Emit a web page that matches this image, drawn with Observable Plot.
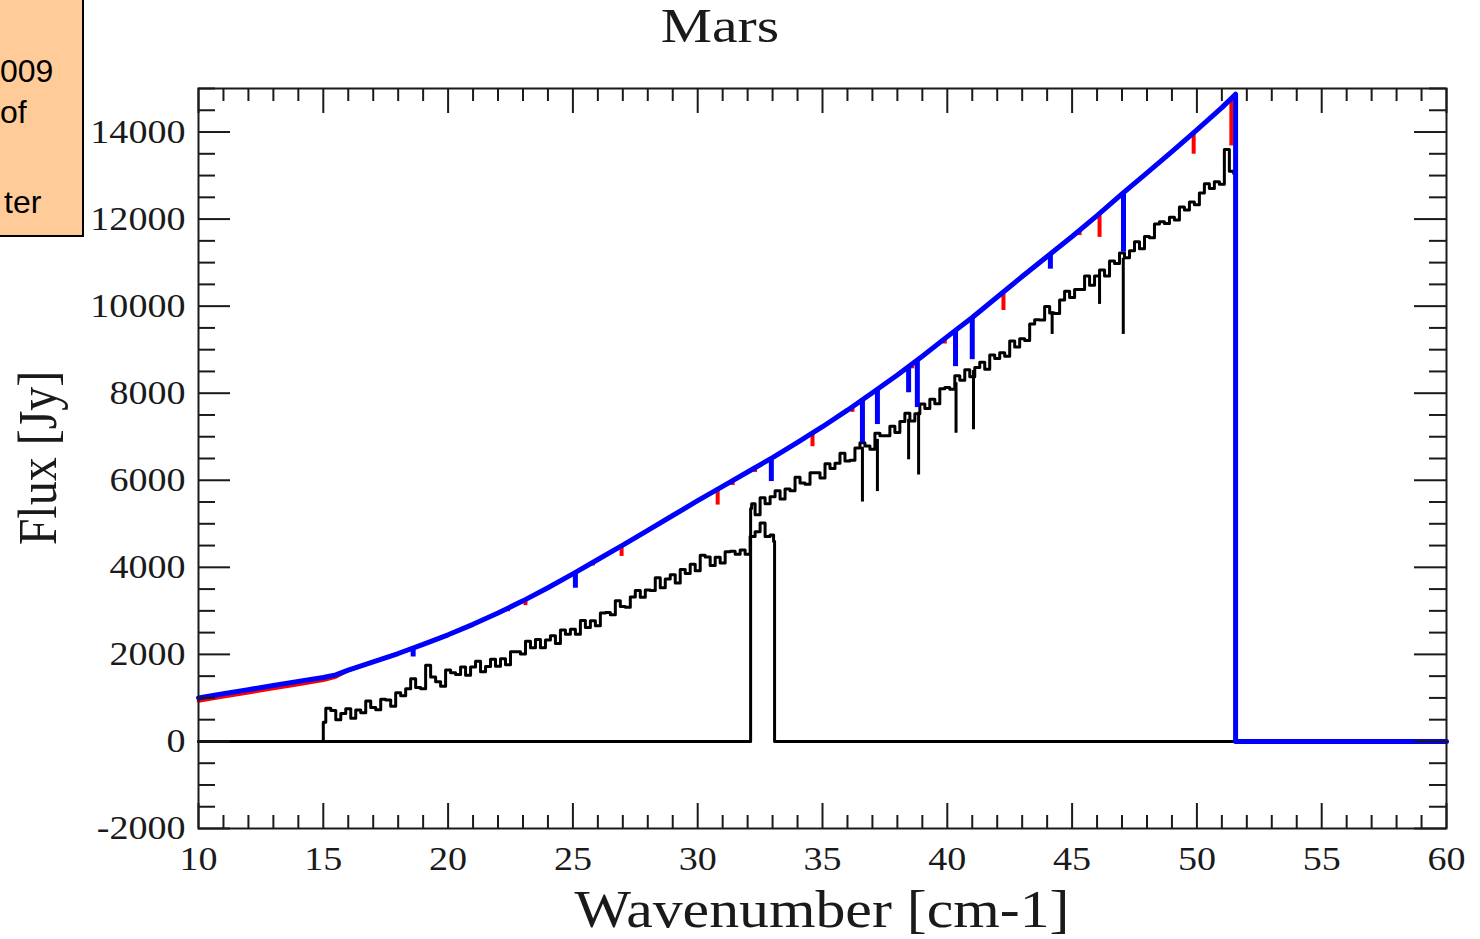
<!DOCTYPE html>
<html>
<head>
<meta charset="utf-8">
<script src="https://cdn.jsdelivr.net/npm/d3@7"></script>
<script src="https://cdn.jsdelivr.net/npm/@observablehq/plot@0.6"></script>
<style>
html, body { margin: 0; padding: 0; background: #fff; width: 1480px; height: 939px; overflow: hidden; }
#wrap { position: relative; width: 1480px; height: 939px; }
#chart svg { position: absolute; left: 0; top: 0; }
.serif { font-family: "Liberation Serif", "Times New Roman", serif; color: #1a1a1a; white-space: nowrap; position: absolute; }
#title { font-size: 48px; line-height: 48px; left: 720px; top: 2px; transform: translateX(-50%) scaleX(1.2); }
#xlabel { font-size: 52px; line-height: 52px; left: 822px; top: 884px; transform: translateX(-50%) scaleX(1.15); }
#ylabel { font-size: 48px; line-height: 48px; left: 38px; top: 458px; transform: translate(-50%, -50%) rotate(-90deg) scaleY(1.15); }
#note { position: absolute; left: 0; top: 0; width: 82px; height: 235px; background: #FFCC99; border-right: 2px solid #000; border-bottom: 2px solid #000; }
#note div { position: absolute; font-family: "Liberation Sans", Arial, sans-serif; font-size: 32px; line-height: 32px; color: #000; white-space: nowrap; }
</style>
</head>
<body>
<div id="wrap">
  <div id="chart"></div>
  <div id="note">
    <div style="left:0px; top:55px;">009</div>
    <div style="left:0px; top:96px;">of</div>
    <div style="left:4px; top:186px;">ter</div>
  </div>
  <div id="title" class="serif">Mars</div>
  <div id="xlabel" class="serif">Wavenumber [cm-1]</div>
  <div id="ylabel" class="serif">Flux [Jy]</div>
</div>
<script>
// ---------- axis ticks ----------
const xTicks = [10, 15, 20, 25, 30, 35, 40, 45, 50, 55, 60];
const yTicks = [-2000, 0, 2000, 4000, 6000, 8000, 10000, 12000, 14000];
const xMinorTicks = d3.range(10, 61, 1).filter(v => !xTicks.includes(v));
const yMinorTicks = d3.range(-2000, 15001, 500).filter(v => !yTicks.includes(v));

// ---------- model spectrum (blue over red) ----------
const modelWn = [10, 11, 12, 13, 14, 15, 15.5, 16, 17, 18, 19, 20, 21, 22, 23, 24, 25, 26, 27, 28, 29, 30,
  31, 32, 33, 34, 35, 36, 37, 38, 39, 40, 41, 42, 43, 44, 45, 46, 47, 48, 49, 50, 51, 51.55];
const blueFlux = [1000, 1095, 1190, 1285, 1380, 1470, 1530, 1640, 1830, 2020, 2230, 2450, 2690, 2950, 3230, 3530, 3850,
  4180, 4510, 4850, 5190, 5530, 5860, 6190, 6520, 6870, 7230, 7610, 8010, 8420, 8850, 9300, 9740, 10210, 10680,
  11140, 11600, 12080, 12580, 13060, 13550, 14050, 14560, 14870];
const redFlux = [930, 1025, 1120, 1215, 1310, 1405, 1480, 1630, 1830, 2020, 2230, 2450, 2690, 2950, 3230, 3530, 3850,
  4180, 4510, 4850, 5190, 5530, 5860, 6190, 6520, 6870, 7230, 7610, 8010, 8420, 8850, 9300, 9740, 10210, 10680,
  11140, 11600, 12080, 12580, 13060, 13550, 14050, 14560, 14870];
const blueTailWn = [51.55, 60];
const blueTailFlux = [0, 0];

// absorption lines in the model
const blueDipWn = [18.6, 25.1, 32.95, 36.6, 37.2, 38.45, 38.8, 40.33, 41.0, 44.13, 47.06];
const blueDipTop = [2145, 3880, 6500, 7850, 8090, 8610, 8760, 9450, 9740, 11200, 12610];
const blueDipBottom = [1940, 3520, 5970, 6860, 7280, 8010, 7670, 8610, 8770, 10850, 11240];

const redDipWn = [22.4, 23.1, 25.8, 26.95, 30.8, 31.4, 32.3, 34.6, 36.2, 38.6, 39.9, 42.25, 45.3, 46.1, 49.87, 51.38];
const redDipTop = [3060, 3260, 4110, 4490, 5790, 5990, 6290, 7090, 7690, 8680, 9250, 10320, 11740, 12130, 14000, 14760];
const redDipBottom = [2980, 3120, 4030, 4250, 5430, 5880, 6180, 6770, 7560, 8560, 9130, 9900, 11620, 11580, 13490, 13680];

// ---------- observed spectrum (black) ----------
const gridStep = 0.2;
// long-wavelength band, sampled from 15.0 to 33.0
const slwStartWn = 15.0;
const slwFlux = [440, 760, 710, 500, 640, 750, 530, 720, 660, 930,
  780, 730, 970, 950, 810, 1120, 1050, 1210, 1440, 1240,
  1210, 1750, 1480, 1370, 1270, 1640, 1580, 1540, 1710, 1520,
  1710, 1840, 1600, 1720, 1890, 1730, 1900, 1760, 2060, 2060,
  2010, 2300, 2150, 2340, 2150, 2330, 2430, 2250, 2560, 2460,
  2580, 2460, 2780, 2620, 2770, 2660, 2950, 2960, 2910, 3230,
  3100, 3080, 3320, 3470, 3310, 3480, 3470, 3760, 3530, 3730,
  3830, 3640, 3950, 3860, 4070, 3920, 4280, 4240, 4040, 4230,
  4100, 4360, 4370, 4300, 4400, 4300, 4710, 4820, 5020, 4710,
  4740];
const slwLeadWn = [10, 15], slwLeadFlux = [0, 0];
const slwTailWn = [33.08, 33.08, 60], slwTailFlux = [4600, 0, 0];

// short-wavelength band, sampled from 32.2 to 51.4
const sswStartWn = 32.2;
const sswFlux = [5460, 5210, 5600, 5460, 5620,
  5760, 5570, 5800, 5760, 6070, 5940, 5910, 6170, 6170, 6050,
  6380, 6270, 6390, 6620, 6440, 6460, 6740, 6860, 6790, 6710,
  7080, 7020, 7020, 7240, 7100, 7350, 7540, 7360, 7530, 7750,
  7650, 7860, 7760, 8100, 8130, 8090, 8400, 8300, 8540, 8380,
  8590, 8710, 8550, 8880, 8800, 8930, 8850, 9200, 9060, 9250,
  9210, 9590, 9690, 9680, 9990, 9840, 9830, 10140, 10340, 10200,
  10380, 10380, 10690, 10480, 10690, 10830, 10690, 11040, 10980, 11220,
  11110, 11270, 11480, 11320, 11600, 11570, 11890, 11940, 11900, 12040,
  11980, 12280, 12210, 12390, 12330, 12600, 12810, 12700, 12860, 12800,
  13600, 13100];
const sswLeadWn = [10, 32.12, 32.12], sswLeadFlux = [0, 0, 5350];
const sswTailWn = [51.55, 51.55, 60], sswTailFlux = [13050, 0, 0];

// absorption lines in the observed spectrum
const blackDipWn = [36.6, 37.2, 38.45, 38.85, 40.35, 41.05, 44.2, 46.1, 47.05];
const blackDipTop = [6760, 6940, 7400, 7560, 8240, 8520, 9870, 10700, 11100];
const blackDipBottom = [5500, 5740, 6470, 6120, 7080, 7160, 9350, 10040, 9350];

// ---------- build tables ----------
const pts = (xs, ys) => xs.map((x, i) => ({x, y: ys[i]}));
const grid = (start, vals) => vals.map((y, i) => ({x: +(start + i * gridStep).toFixed(2), y}));
const dips = (xs, t, b) => xs.map((x, i) => ({x, y1: t[i], y2: b[i]}));

const blueLine = pts(modelWn.concat(blueTailWn), blueFlux.concat(blueTailFlux));
const redLine = pts(modelWn, redFlux);
const slwLine = [...pts(slwLeadWn, slwLeadFlux), ...grid(slwStartWn, slwFlux), ...pts(slwTailWn, slwTailFlux)];
const sswLine = [...pts(sswLeadWn, sswLeadFlux), ...grid(sswStartWn, sswFlux), ...pts(sswTailWn, sswTailFlux)];

const FH = 740, FW = 1248;
const tickColor = "#1a1a1a";

const chart = Plot.plot({
  width: 1480,
  height: 939,
  marginLeft: 198,
  marginRight: 34,
  marginTop: 88,
  marginBottom: 111,
  x: {domain: [10, 60]},
  y: {domain: [-2000, 15000]},
  style: {fontFamily: '"Liberation Serif", "Times New Roman", serif', fontSize: "34px", color: "#1a1a1a", background: "transparent"},
  marks: [
    Plot.axisX({ticks: xTicks, tickSize: 0, tickPadding: 17, tickFormat: d => String(d), label: null, fontSize: 34}),
    Plot.axisY({ticks: yTicks, tickSize: 0, tickPadding: 13, tickFormat: d => String(d), label: null, fontSize: 34}),
    Plot.line(slwLine, {x: "x", y: "y", stroke: "#000", strokeWidth: 3, curve: "step"}),
    Plot.line(sswLine, {x: "x", y: "y", stroke: "#000", strokeWidth: 3, curve: "step"}),
    Plot.ruleX(dips(blackDipWn, blackDipTop, blackDipBottom), {x: "x", y1: "y1", y2: "y2", stroke: "#000", strokeWidth: 3}),
    Plot.line(redLine, {x: "x", y: "y", stroke: "#ff0000", strokeWidth: 3.5}),
    Plot.ruleX(dips(redDipWn, redDipTop, redDipBottom), {x: "x", y1: "y1", y2: "y2", stroke: "#ff0000", strokeWidth: 4}),
    Plot.line(blueLine, {x: "x", y: "y", stroke: "#0000ff", strokeWidth: 5}),
    Plot.ruleX(dips(blueDipWn, blueDipTop, blueDipBottom), {x: "x", y1: "y1", y2: "y2", stroke: "#0000ff", strokeWidth: 5}),
    // inward ticks on all four sides
    Plot.tickX(xTicks, {x: d => d, insetTop: FH - 25, stroke: tickColor, strokeWidth: 2}),
    Plot.tickX(xTicks, {x: d => d, insetBottom: FH - 25, stroke: tickColor, strokeWidth: 2}),
    Plot.tickX(xMinorTicks, {x: d => d, insetTop: FH - 13, stroke: tickColor, strokeWidth: 2}),
    Plot.tickX(xMinorTicks, {x: d => d, insetBottom: FH - 13, stroke: tickColor, strokeWidth: 2}),
    Plot.tickY(yTicks, {y: d => d, insetRight: FW - 32, stroke: tickColor, strokeWidth: 2}),
    Plot.tickY(yTicks, {y: d => d, insetLeft: FW - 32, stroke: tickColor, strokeWidth: 2}),
    Plot.tickY(yMinorTicks, {y: d => d, insetRight: FW - 17, stroke: tickColor, strokeWidth: 2}),
    Plot.tickY(yMinorTicks, {y: d => d, insetLeft: FW - 17, stroke: tickColor, strokeWidth: 2}),
    Plot.frame({stroke: tickColor, strokeWidth: 2})
  ]
});
document.getElementById("chart").appendChild(chart);

// widen tick labels slightly to match the reference lettering
d3.select(chart).selectAll('g[aria-label$="tick label"] text').each(function() {
  const t = this.getAttribute("transform");
  const x = +this.getAttribute("x") || 0, y = +this.getAttribute("y") || 0;
  this.setAttribute("transform", (t ? t + " " : "") + `translate(${x},${y}) scale(1.12,1) translate(${-x},${-y})`);
});
</script>
</body>
</html>
